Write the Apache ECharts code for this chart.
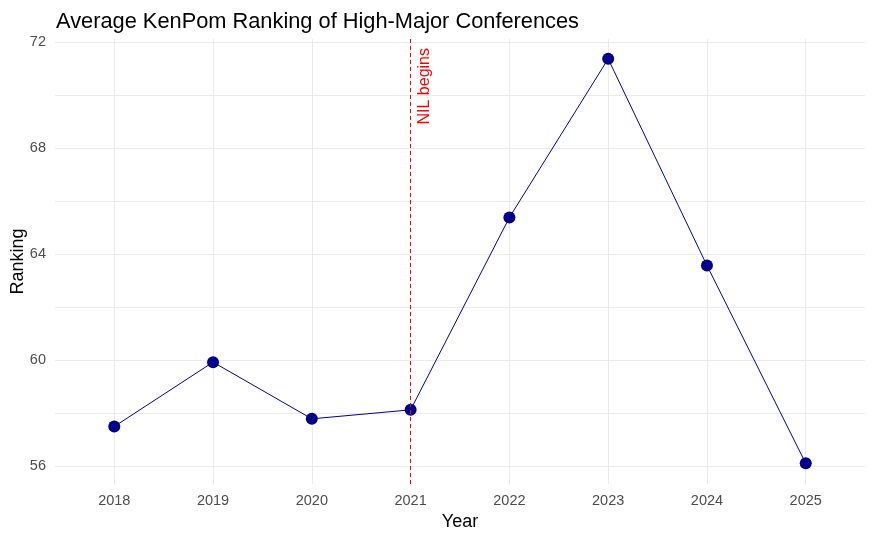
<!DOCTYPE html>
<html>
<head>
<meta charset="utf-8">
<script src="https://cdn.jsdelivr.net/npm/echarts@6/dist/echarts.min.js"></script>
<style>
  html, body { margin: 0; padding: 0; background: #fff; }
  #chart { width: 875px; height: 540px; }
</style>
</head>
<body>
<div id="chart"></div>
<script>
// data
var years = [2018, 2019, 2020, 2021, 2022, 2023, 2024, 2025];
var rankings = [57.49, 59.92, 57.78, 58.12, 65.38, 71.37, 63.57, 56.10];
var yTickLabels = [56, 60, 64, 68, 72];
var yGridValues = [56, 58, 60, 62, 64, 66, 68, 70, 72];
var nilYear = 2021;
var nilLabel = 'NIL begins';

var font = 'Liberation Sans, Arial, sans-serif';
var gridColor = '#EBEBEB';

var points = years.map(function (y, i) { return [y, rankings[i]]; });

var chart = echarts.init(document.getElementById('chart'));
chart.setOption({
  animation: false,
  textStyle: { fontFamily: font },
  title: {
    text: 'Average KenPom Ranking of High-Major Conferences',
    left: 51,
    top: 6,
    textStyle: { fontFamily: font, fontSize: 21.8, fontWeight: 'normal', color: '#000' }
  },
  grid: { left: 55, right: 10, top: 39, bottom: 56, outerBoundsMode: 'none' },
  xAxis: {
    type: 'value',
    min: 2017.4,
    max: 2025.6,
    name: 'Year',
    nameLocation: 'middle',
    nameGap: 28,
    nameTextStyle: { fontFamily: font, fontSize: 18, color: '#000' },
    axisLine: { show: false },
    axisTick: { show: false, customValues: years },
    axisLabel: {
      customValues: years,
      formatter: function (v) { return String(v); },
      margin: 9,
      fontSize: 14.5,
      color: '#4D4D4D',
      fontFamily: font
    },
    splitLine: { show: true, lineStyle: { color: gridColor, width: 1 } }
  },
  yAxis: {
    type: 'value',
    min: 55.32,
    max: 72.12,
    name: 'Ranking',
    nameLocation: 'middle',
    nameGap: 28,
    nameMoveOverlap: false,
    nameTextStyle: { fontFamily: font, fontSize: 18, color: '#000' },
    axisLine: { show: false },
    axisTick: { show: false, customValues: yGridValues },
    axisLabel: {
      customValues: yTickLabels,
      margin: 9,
      fontSize: 14.5,
      color: '#4D4D4D',
      fontFamily: font
    },
    splitLine: { show: true, lineStyle: { color: gridColor, width: 1 } }
  },
  series: [{
    type: 'line',
    data: points,
    symbol: 'circle',
    symbolSize: 12,
    lineStyle: { color: '#00008B', width: 1 },
    itemStyle: { color: '#00008B' },
    markLine: {
      silent: true,
      symbol: 'none',
      lineStyle: { color: '#FF0000', type: [4, 3], width: 1 },
      label: {
        show: true,
        formatter: nilLabel,
        position: 'insideEndBottom',
        distance: [9, 6],
        color: '#FF0000',
        fontSize: 16,
        fontFamily: font
      },
      data: [{ xAxis: nilYear }]
    }
  }]
});
</script>
</body>
</html>
